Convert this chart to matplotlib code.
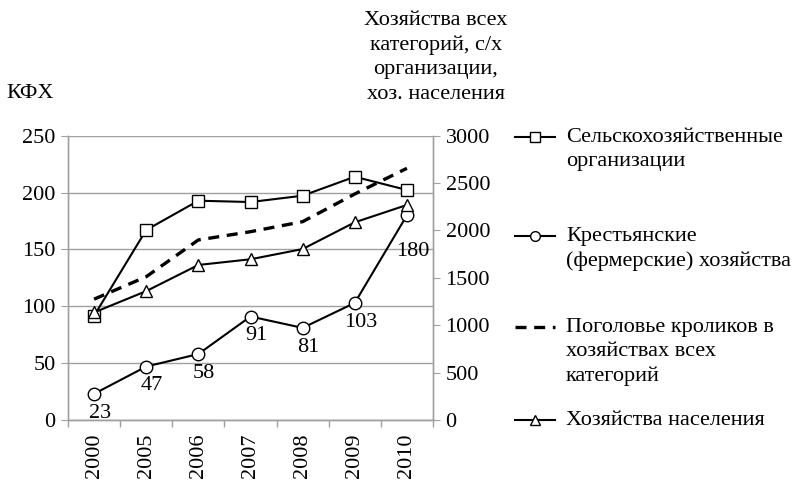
import matplotlib.pyplot as plt
from matplotlib.lines import Line2D

plt.rcParams['font.family'] = ['Liberation Serif', 'DejaVu Serif']

years = ['2000', '2005', '2006', '2007', '2008', '2009', '2010']
kfh = [23, 47, 58, 91, 81, 103, 180]
sh_org = [1100, 2005, 2314, 2300, 2367, 2567, 2427]
rabbits = [1275, 1512, 1900, 1987, 2093, 2385, 2656]
household = [1135, 1360, 1636, 1696, 1804, 2086, 2269]

W, H = 799, 486
fig = plt.figure(figsize=(W / 100, H / 100), dpi=100)
ax = fig.add_axes([68 / W, 1 - 420 / H, (433 - 68) / W, (420 - 135.7) / H])
ax2 = ax.twinx()

grey = '#a0a0a0'
fs = 16
x = list(range(len(years)))

# left axis: КФХ
ax.plot(x, kfh, color='black', lw=1.5, marker='o', ms=9,
        mfc='white', mec='black', mew=1.0, zorder=3)
for i, v in enumerate(kfh):
    dy = -26 if i == len(kfh) - 1 else -14
    ax.annotate(str(v), (i, v), textcoords='offset points', xytext=(4, dy),
                ha='center', va='center', fontsize=fs)

# right axis
ax2.plot(x, sh_org, color='black', lw=1.5, marker='s', ms=9,
         mfc='white', mec='black', mew=1.0)
ax2.plot(x, rabbits, color='black', lw=2.4, ls=(0, (3.3, 2.3)))
ax2.plot(x, household, color='black', lw=1.5, marker='^', ms=9,
         mfc='white', mec='black', mew=1.0)

ax.set_xlim(-0.5, len(years) - 0.5)
ax.set_ylim(0, 250)
ax2.set_ylim(0, 3000)
ax.set_yticks(range(0, 251, 50))
ax2.set_yticks(range(0, 3001, 500))
ax.set_xticks(x)
ax.set_xticklabels(years, rotation=90, fontsize=fs)
ax.set_xticks([i - 0.5 for i in range(len(years) + 1)], minor=True)
ax.tick_params(axis='x', which='major', length=0, pad=10)
ax.tick_params(axis='x', which='minor', length=5, color=grey, width=1)
ax.tick_params(axis='y', length=5, color=grey, labelsize=fs, pad=4)
ax2.tick_params(axis='y', length=5, color=grey, labelsize=fs, pad=4)

ax.grid(axis='y', color=grey, lw=1)
ax.set_axisbelow(True)
for a in (ax, ax2):
    a.spines['top'].set_visible(False)
    for s in ('left', 'right', 'bottom'):
        a.spines[s].set_color(grey)
        a.spines[s].set_linewidth(1)

fig.text(30 / W, 1 - 93 / H, 'КФХ', ha='center', va='center', fontsize=fs)
fig.text(436 / W, 1 - 11 / H,
         'Хозяйства всех\nкатегорий, с/х\nорганизации,\nхоз. населения',
         ha='center', va='top', fontsize=fs, linespacing=1.38)

# legend
entries = [
    ('s', '-', 'Сельскохозяйственные\nорганизации', 137),
    ('o', '-', 'Крестьянские\n(фермерские) хозяйства', 236),
    (None, '--', 'Поголовье кроликов в\nхозяйствах всех\nкатегорий', 327),
    ('^', '-', 'Хозяйства населения', 420),
]
for m, ls, label, yc in entries:
    yf = 1 - yc / H
    if ls == '--':
        fig.add_artist(Line2D([515 / W, 555 / W], [yf, yf], color='black',
                              lw=2.4, ls=(0, (3.3, 2.3))))
    else:
        fig.add_artist(Line2D([515 / W, 555 / W], [yf, yf], color='black', lw=1.5))
        fig.add_artist(Line2D([535 / W], [yf], marker=m, ms=7, mfc='white',
                              mec='black', mew=1.0, ls='none'))
    fig.text(566 / W, yf + 9 / H, label, ha='left', va='top', fontsize=fs,
             linespacing=1.38)

fig.savefig('out.png', dpi=100)
